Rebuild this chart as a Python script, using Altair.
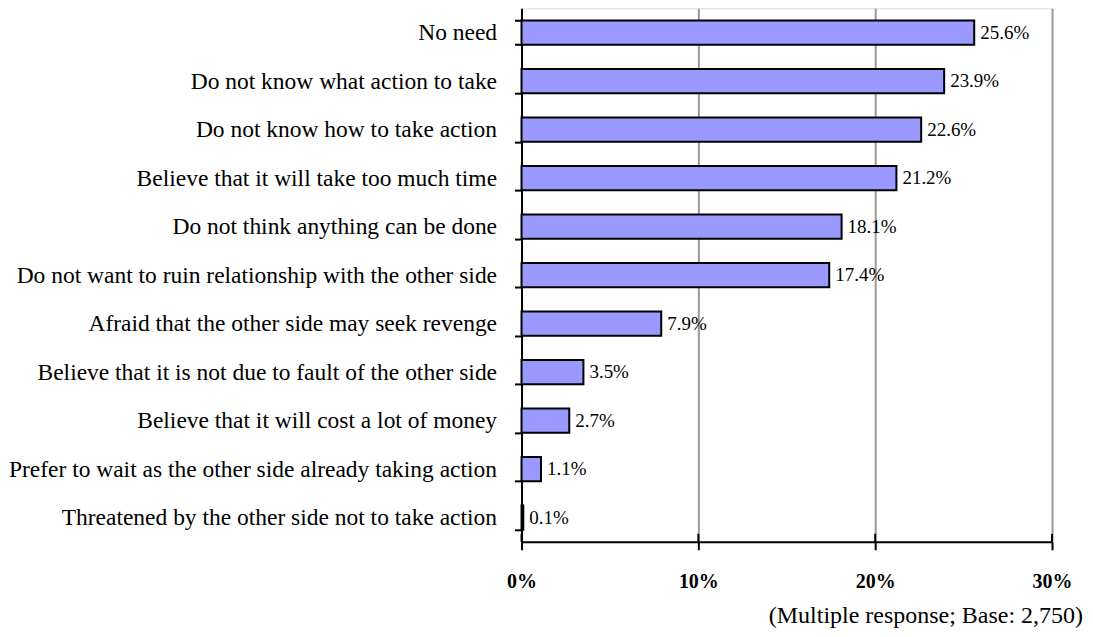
import altair as alt
import pandas as pd

categories = [
    "No need",
    "Do not know what action to take",
    "Do not know how to take action",
    "Believe that it will take too much time",
    "Do not think anything can be done",
    "Do not want to ruin relationship with the other side",
    "Afraid that the other side may seek revenge",
    "Believe that it is not due to fault of the other side",
    "Believe that it will cost a lot of money",
    "Prefer to wait as the other side already taking action",
    "Threatened by the other side not to take action",
]
values = [25.6, 23.9, 22.6, 21.2, 18.1, 17.4, 7.9, 3.5, 2.7, 1.1, 0.1]
x_ticks = [0, 10, 20, 30]
footnote = "(Multiple response; Base: 2,750)"

df = pd.DataFrame({"reason": categories, "pct": values})
df["label"] = [f"{v:.1f}%" for v in values]
ticks_df = pd.DataFrame({"t": x_ticks})
note_df = pd.DataFrame({"note": [footnote]})

FONT = "Liberation Serif"
W, H = 531, 534

y_enc = alt.Y(
    "reason:N",
    sort=categories,
    title=None,
    scale=alt.Scale(paddingInner=0.5, paddingOuter=0.25),
    axis=alt.Axis(
        labelFont=FONT,
        labelFontSize=23.5,
        labelColor="black",
        labelPadding=18,
        labelLimit=0,
        domainColor="black",
        domainWidth=2,
        tickColor="black",
        tickWidth=2,
        tickSize=7,
        tickBand="extent",
        ticks=True,
    ),
)

x_enc = alt.X(
    "pct:Q",
    title=None,
    scale=alt.Scale(domain=[0, 30], nice=False, zero=True),
    axis=alt.Axis(
        values=x_ticks,
        labelExpr="datum.value + '%'",
        labelFont=FONT,
        labelFontSize=20,
        labelFontWeight="bold",
        labelColor="black",
        labelPadding=22,
        labelFlush=False,
        domainColor="black",
        domainWidth=2,
        tickColor="black",
        tickWidth=2,
        tickSize=8,
        grid=True,
        gridColor="#999999",
        gridWidth=2,
    ),
)

bars = alt.Chart(df).mark_bar(
    color="#9999FF", stroke="black", strokeWidth=2
).encode(x=x_enc, y=y_enc)

texts = alt.Chart(df).mark_text(
    align="left", baseline="middle", dx=6, font=FONT, fontSize=19, color="black"
).encode(x="pct:Q", y=alt.Y("reason:N", sort=categories), text="label:N")

up_ticks = alt.Chart(ticks_df).mark_rule(color="black", strokeWidth=2).encode(
    x="t:Q", y=alt.value(H - 8), y2=alt.value(H)
)

note = alt.Chart(note_df).mark_text(
    align="right", baseline="middle", font=FONT, fontSize=24, color="black"
).encode(x=alt.value(W + 31), y=alt.value(H + 74), text="note:N")

chart = (
    alt.layer(bars, texts, up_ticks, note)
    .properties(
        width=W,
        height=H,
        autosize=alt.AutoSizeParams(type="none"),
        padding={"left": 514, "top": 0, "right": 33, "bottom": 86},
    )
    .configure_view(stroke="#999999", strokeWidth=2)
    .configure(background="white")
)

chart.save("out.html", embed_options={"renderer": "svg", "actions": False})
